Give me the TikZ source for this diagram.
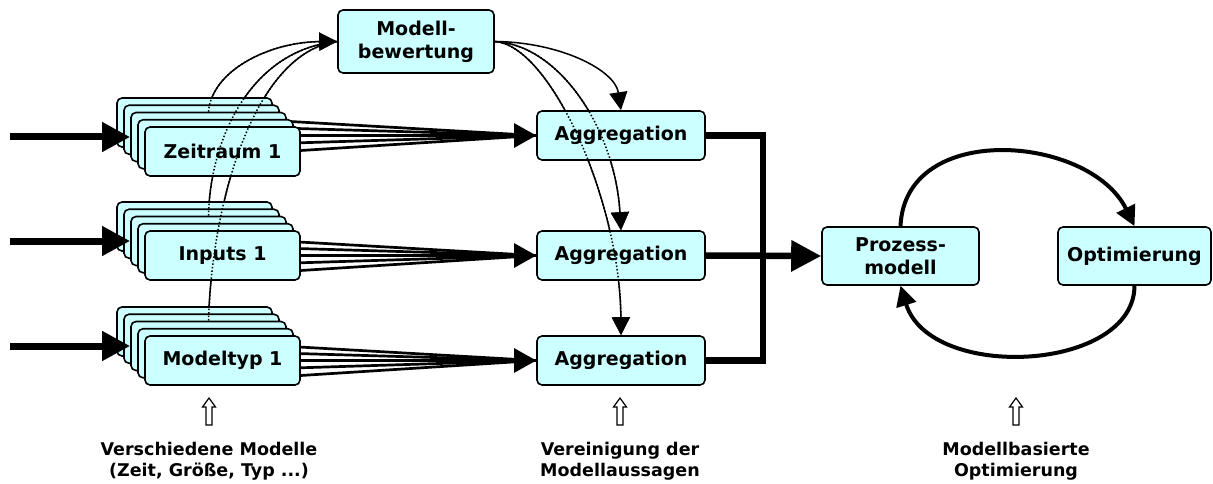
\documentclass[tikz,border=0pt]{standalone}
\usepackage{fontspec}
\setmainfont{DejaVu Sans}
\usetikzlibrary{arrows.meta,backgrounds,calc}
\definecolor{boxfill}{HTML}{CCFFFF}
\tikzset{
  box/.style={draw, line width=1.6pt, rounded corners=5pt, fill=boxfill, inner sep=0pt,
    font=\fontsize{19}{23}\selectfont\bfseries, align=center},
  stackbox/.style={box, minimum width=155pt, minimum height=49pt},
  aggbox/.style={box, minimum width=168pt, minimum height=49pt},
  fan/.style={line width=2.7pt},
  curvesolid/.style={line width=1.5pt},
  curvedot/.style={line width=1.5pt, dash pattern=on 1.5pt off 2pt},
  smalltip/.style={-{Triangle[length=18pt,width=18pt]}},
  inarrow/.style={line width=7pt, -{Triangle[length=28pt,width=28pt]}},
  busline/.style={line width=6.5pt, line join=miter},
  bigarrow/.style={line width=6.5pt, -{Triangle[length=30pt,width=30pt]}},
  looparrow/.style={line width=4pt, -{Triangle[length=20pt,width=20pt]}},
  hollow/.style={draw, line width=1.2pt, fill=white, line join=miter},
  caption/.style={font=\fontsize{17.5}{21}\selectfont\bfseries, align=center, inner sep=0pt}
}
\begin{document}
\begin{tikzpicture}[x=1pt,y=-1pt]
\useasboundingbox (0,0) rectangle (1213,484);

% stacks
\foreach \s/\T/\txt in {z/127/Zeitraum 1, i/231/Inputs 1, m/336/Modeltyp 1}{
  \foreach \k in {0,...,3}{
    \node[stackbox] (\s\k) at ({194.5+7*\k},{\T-4.5+7.25*\k}) {};
  }
  \node[stackbox] (\s4) at (222.5,{\T+24.5}) {\txt};
}

% aggregation, evaluation, process model, optimisation
\node[aggbox] (a1) at (621,135.5) {Aggregation};
\node[aggbox] (a2) at (621,255.5) {Aggregation};
\node[aggbox] (a3) at (621,360.5) {Aggregation};
\node[box, minimum width=156pt, minimum height=63pt] (mb) at (416,41.5) {Modell-\\bewertung};
\node[box, minimum width=157pt, minimum height=58pt] (pm) at (900.5,256) {Prozess-\\modell};
\node[box, minimum width=153pt, minimum height=58pt] (opt) at (1134.5,256) {Optimierung};

\begin{scope}[on background layer]
  % fans
  \foreach \s/\a in {z/a1, i/a2, m/a3}{
    \foreach \k/\o in {0/-15, 1/-7.5, 3/7.5, 4/15}{
      \draw[fan] ($(\s\k.east |- \a.west)+(0,\o)$) -- (\a.west);
    }
    \draw[fan, -{Triangle[length=22pt,width=24pt]}] (\s2.east |- \a.west) -- (\a.west);
  }
  % curves to evaluation
  \draw[curvesolid, smalltip] (z2.north) .. controls (212,70) and (270,42) .. (mb.west);
  \draw[curvesolid] (i2.north) .. controls (210,140) and (250,50) .. (mb.west);
  \draw[curvesolid] (m2.north) .. controls (212,200) and (255,52) .. (mb.west);
  % curves from evaluation
  \draw[curvesolid, smalltip] (mb.east) .. controls (560,42) and (615,70) .. (a1.north);
  \draw[curvesolid, smalltip] (mb.east) .. controls (560,45) and (615,130) .. (a2.north);
  \draw[curvesolid, smalltip] (mb.east) .. controls (550,45) and (620,200) .. (a3.north);
\end{scope}

% dotted parts where curves cross the boxes (same geometry as the solid curves)
\draw[curvedot, smalltip] (z2.north) .. controls (212,70) and (270,42) .. (mb.west);
\draw[curvedot] (i2.north) .. controls (210,140) and (250,50) .. (mb.west);
\draw[curvedot] (m2.north) .. controls (212,200) and (255,52) .. (mb.west);
\draw[curvedot, smalltip] (mb.east) .. controls (560,45) and (615,130) .. (a2.north);
\draw[curvedot, smalltip] (mb.east) .. controls (550,45) and (620,200) .. (a3.north);

% inputs
\coordinate (in1) at (10,137);
\coordinate (in2) at (10,241);
\coordinate (in3) at (10,346);
\draw[inarrow] (in1) -- (z2.west);
\draw[inarrow] (in2) -- (i2.west);
\draw[inarrow] (in3) -- (m2.west);

% bus to process model
\coordinate (bus) at (763,256);
\draw[busline] (a1.east) -| (bus) |- (a3.east);
\draw[bigarrow] (a2.east) -- (pm.west);

% optimisation loop
\draw[looparrow] (pm.north) .. controls (905,120) and (1090,135) .. (opt.north);
\draw[looparrow] (opt.south) .. controls (1134,372) and (930,382) .. (pm.south);

% hollow arrows
\foreach \x in {209,620,1016}{
  \draw[hollow] (\x,398) -- ++(6.5,9) -- ++(-3.5,0) -- ++(0,18) -- ++(-6,0) -- ++(0,-18) -- ++(-3.5,0) -- cycle;
}

% captions
\node[caption] (c1) at (209,461) {Verschiedene Modelle\\(Zeit, Größe, Typ ...)};
\node[caption] (c2) at (620,461) {Vereinigung der\\Modellaussagen};
\node[caption] (c3) at (1016,461) {Modellbasierte\\Optimierung};
\end{tikzpicture}
\end{document}
